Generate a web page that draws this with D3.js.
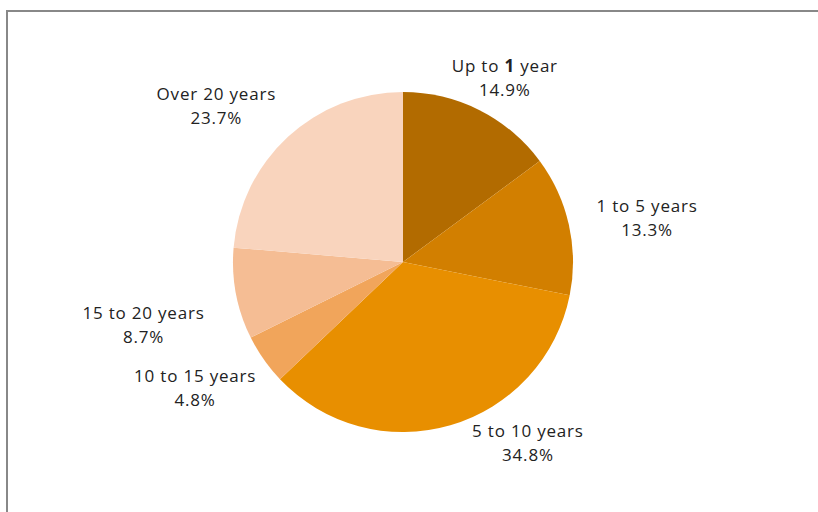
<!DOCTYPE html>
<html>
<head>
<meta charset="utf-8">
<script src="https://cdn.jsdelivr.net/npm/d3@7"></script>
<style>
  html, body { margin: 0; padding: 0; background: #fff; }
  svg { display: block; }
</style>
</head>
<body>
<svg id="chart" width="818" height="512"></svg>
<script>
// ---- data ----
const categories = ["Up to 1 year", "1 to 5 years", "5 to 10 years", "10 to 15 years", "15 to 20 years", "Over 20 years"];
const shares = [14.9, 13.3, 34.8, 4.8, 8.7, 23.7];
const percentLabels = ["14.9%", "13.3%", "34.8%", "4.8%", "8.7%", "23.7%"];

// ---- style / layout ----
const colors = ["#B26B00", "#D27F00", "#E88F00", "#F1A55B", "#F5BD94", "#F9D4BD"];
// label placement: [angle from 12 o'clock in degrees, distance from centre]
const labelPolar = [[29, 210], [79.8, 248], [145.4, 220], [238.8, 243], [256.4, 267], [309.8, 243]];

const svg = d3.select("#chart");
const cx = 403, cy = 262, r = 170;

// frame
svg.append("rect")
  .attr("x", 7).attr("y", 11)
  .attr("width", 900).attr("height", 600)
  .attr("fill", "none").attr("stroke", "#888888").attr("stroke-width", 2);

const data = categories.map((c, i) => ({ cat: c, value: shares[i], label: percentLabels[i], i }));

const pie = d3.pie().sort(null).value(d => d.value);
const arc = d3.arc().innerRadius(0).outerRadius(r);
const color = d3.scaleOrdinal().domain(categories).range(colors);

const g = svg.append("g").attr("transform", `translate(${cx},${cy})`);
const arcs = pie(data);

g.selectAll("path.slice")
  .data(arcs)
  .enter().append("path")
  .attr("class", "slice")
  .attr("d", arc)
  .attr("fill", d => color(d.data.cat));

const fontFamily = "'Open Sans', sans-serif";
const lbl = g.selectAll("g.lbl")
  .data(arcs)
  .enter().append("g")
  .attr("class", "lbl")
  .attr("transform", (d, i) => {
    const [a, dist] = labelPolar[i];
    const p = d3.pointRadial(a * Math.PI / 180, dist);
    return `translate(${p[0]},${p[1]})`;
  });

lbl.each(function(d) {
  const sel = d3.select(this);
  const t1 = sel.append("text")
    .attr("text-anchor", "middle")
    .attr("y", -6)
    .attr("font-family", fontFamily)
    .attr("font-size", 17)
    .attr("letter-spacing", 0.8)
    .attr("fill", "#222");
  if (d.data.cat === "Up to 1 year") {
    t1.append("tspan").text("Up to ");
    t1.append("tspan").attr("font-weight", "bold").text("1");
    t1.append("tspan").text(" year");
  } else {
    t1.text(d.data.cat);
  }
  sel.append("text")
    .attr("text-anchor", "middle")
    .attr("y", 18)
    .attr("font-family", fontFamily)
    .attr("font-size", 17)
    .attr("letter-spacing", 0.8)
    .attr("fill", "#222")
    .text(d.data.label);
});
</script>
</body>
</html>
